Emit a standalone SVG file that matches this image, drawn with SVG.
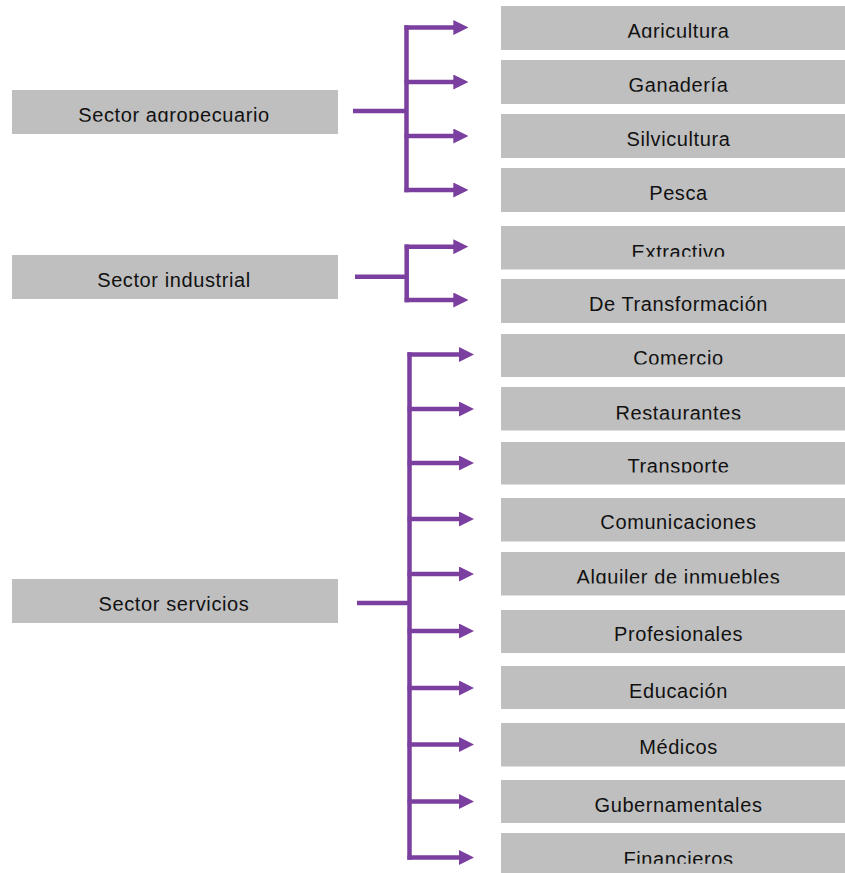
<svg xmlns="http://www.w3.org/2000/svg" width="845" height="873" viewBox="0 0 845 873">
  <defs>
    <style>
      .box { fill: #bfbfbf; }
      .lbl { font-family: "Liberation Sans", Arial, sans-serif; font-size: 20px; letter-spacing: 0.6px; fill: #111; text-anchor: middle; }
      .cut { clip-path: url(#cutBase); }
      .cut2 { clip-path: url(#cutHigh); }
      .wire { fill: none; stroke: #7b3f9f; stroke-width: 4.5; }
      .trunk { fill: none; stroke: #7b3f9f; stroke-width: 4.5; stroke-linecap: square; }
      .branch { fill: none; stroke: #7b3f9f; stroke-width: 4.5; marker-end: url(#head); }
    </style>
    <!-- labels are trimmed at their baseline -->
    <clipPath id="cutBase" clipPathUnits="objectBoundingBox">
      <rect x="-0.1" y="-0.1" width="1.2" height="0.915"/>
    </clipPath>
    <clipPath id="cutHigh" clipPathUnits="objectBoundingBox">
      <rect x="-0.1" y="-0.1" width="1.2" height="0.83"/>
    </clipPath>
    <marker id="head" markerUnits="userSpaceOnUse" markerWidth="15" markerHeight="15" refX="3" refY="7.5" orient="auto">
      <path d="M0,0 L15,7.5 L0,15 Z" fill="#7b3f9f"/>
    </marker>
  </defs>

  <!-- left column: sectors -->
  <g id="sector-agropecuario">
    <rect class="box" x="12" y="90" width="326" height="44"/>
    <text class="lbl cut" x="174" y="121.7">Sector agropecuario</text>
  </g>
  <g id="sector-industrial">
    <rect class="box" x="12" y="255" width="326" height="44"/>
    <text class="lbl" x="174" y="286.7">Sector industrial</text>
  </g>
  <g id="sector-servicios">
    <rect class="box" x="12" y="579" width="326" height="44"/>
    <text class="lbl cut" x="174" y="610.7">Sector servicios</text>
  </g>

  <!-- right column: activities -->
  <g id="agricultura">
    <rect class="box" x="501" y="6" width="355" height="44"/>
    <text class="lbl cut" x="678.5" y="37.7">Agricultura</text>
  </g>
  <g id="ganaderia">
    <rect class="box" x="501" y="60" width="355" height="44"/>
    <text class="lbl cut" x="678.5" y="91.7">Ganadería</text>
  </g>
  <g id="silvicultura">
    <rect class="box" x="501" y="114" width="355" height="44"/>
    <text class="lbl" x="678.5" y="146">Silvicultura</text>
  </g>
  <g id="pesca">
    <rect class="box" x="501" y="168" width="355" height="44"/>
    <text class="lbl" x="678.5" y="200">Pesca</text>
  </g>
  <g id="extractivo">
    <rect class="box" x="501" y="226" width="355" height="43.5"/>
    <text class="lbl cut2" x="678.5" y="258.6">Extractivo</text>
  </g>
  <g id="de-transformacion">
    <rect class="box" x="501" y="279" width="355" height="44"/>
    <text class="lbl" x="678.5" y="311">De Transformación</text>
  </g>
  <g id="comercio">
    <rect class="box" x="501" y="334" width="355" height="43"/>
    <text class="lbl cut" x="678.5" y="364.6">Comercio</text>
  </g>
  <g id="restaurantes">
    <rect class="box" x="501" y="387" width="355" height="43.5"/>
    <text class="lbl cut" x="678.5" y="419.5">Restaurantes</text>
  </g>
  <g id="transporte">
    <rect class="box" x="501" y="442" width="355" height="42.5"/>
    <text class="lbl cut" x="678.5" y="472.6">Transporte</text>
  </g>
  <g id="comunicaciones">
    <rect class="box" x="501" y="498" width="355" height="43.5"/>
    <text class="lbl" x="678.5" y="529.3">Comunicaciones</text>
  </g>
  <g id="alquiler">
    <rect class="box" x="501" y="552" width="355" height="43.5"/>
    <text class="lbl cut" x="678.5" y="583.6">Alquiler de inmuebles</text>
  </g>
  <g id="profesionales">
    <rect class="box" x="501" y="610" width="355" height="43"/>
    <text class="lbl" x="678.5" y="641">Profesionales</text>
  </g>
  <g id="educacion">
    <rect class="box" x="501" y="666" width="355" height="43"/>
    <text class="lbl" x="678.5" y="697.6">Educación</text>
  </g>
  <g id="medicos">
    <rect class="box" x="501" y="723" width="355" height="43.5"/>
    <text class="lbl" x="678.5" y="754.3">Médicos</text>
  </g>
  <g id="gubernamentales">
    <rect class="box" x="501" y="780" width="355" height="43"/>
    <text class="lbl" x="678.5" y="811.7">Gubernamentales</text>
  </g>
  <g id="financieros">
    <rect class="box" x="501" y="833" width="355" height="44"/>
    <text class="lbl cut2" x="678.5" y="865.6">Financieros</text>
  </g>

  <!-- bracket connectors -->
  <g id="connectors">
    <!-- agropecuario -->
    <path class="wire" d="M353,111 H406.5"/>
    <path class="trunk" d="M406.5,27.5 V190"/>
    <path class="branch" d="M404.5,27.5 H456.3"/>
    <path class="branch" d="M404.5,82 H456.3"/>
    <path class="branch" d="M404.5,136 H456.3"/>
    <path class="branch" d="M404.5,190 H456.3"/>

    <!-- industrial -->
    <path class="wire" d="M355,276.7 H406.7"/>
    <path class="trunk" d="M406.7,246.7 V300"/>
    <path class="branch" d="M404.7,246.7 H456.3"/>
    <path class="branch" d="M404.7,300 H456.3"/>

    <!-- servicios -->
    <path class="wire" d="M357,603 H409.5"/>
    <path class="trunk" d="M409.5,354.5 V857.5"/>
    <path class="branch" d="M407.5,354.5 H462"/>
    <path class="branch" d="M407.5,409 H462"/>
    <path class="branch" d="M407.5,463 H462"/>
    <path class="branch" d="M407.5,519 H462"/>
    <path class="branch" d="M407.5,574 H462"/>
    <path class="branch" d="M407.5,631 H462"/>
    <path class="branch" d="M407.5,688 H462"/>
    <path class="branch" d="M407.5,744.5 H462"/>
    <path class="branch" d="M407.5,801.5 H462"/>
    <path class="branch" d="M407.5,857.5 H462"/>
  </g>
</svg>
